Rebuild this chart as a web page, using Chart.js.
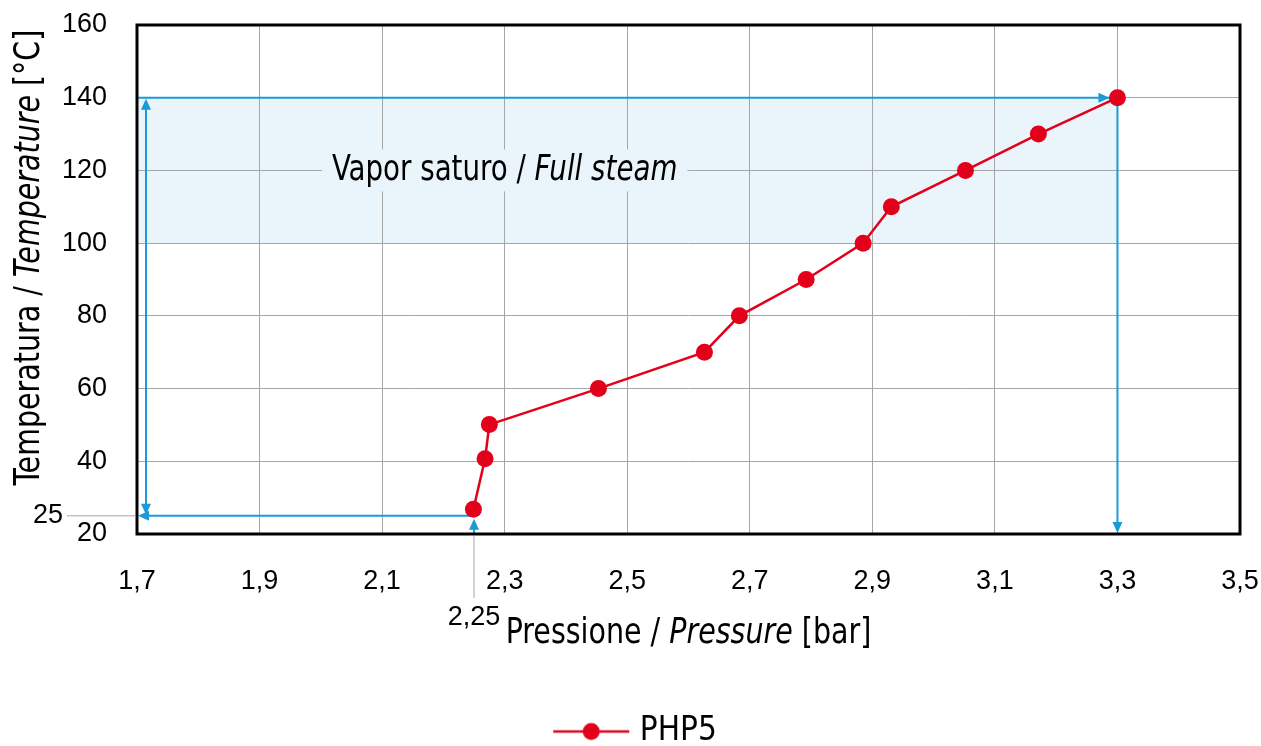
<!DOCTYPE html>
<html lang="it">
<head>
<meta charset="UTF-8">
<title>PHP5 - Temperatura / Pressione</title>
<script src="https://cdn.jsdelivr.net/npm/chart.js@4.4.1/dist/chart.umd.min.js"></script>
<style>
  html, body { margin: 0; padding: 0; background: #fff; }
  #wrap { width: 1261px; height: 746px; }
</style>
</head>
<body>
<div id="wrap"><canvas id="steamChart"></canvas></div>
<script>
// PHP5 curve (pressure in bar, temperature in °C)
const pressure    = [2.249, 2.268, 2.275, 2.453, 2.626, 2.683, 2.792, 2.885, 2.931, 3.052, 3.171, 3.3];
const temperature = [26.8, 40.7, 50.1, 60, 70, 80, 90, 100, 110, 120, 130, 140];
const seriesName = 'PHP5';

const xTicks = [1.7, 1.9, 2.1, 2.3, 2.5, 2.7, 2.9, 3.1, 3.3, 3.5];
const yTicks = [20, 40, 60, 80, 100, 120, 140, 160];

// marked start point and the saturated steam band
const startPressure = 2.25;
const startTemp = 25;
const steamPressure = 3.3;
const steamLow = 100;
const steamHigh = 140;
const bandLabel = [['Vapor saturo / ', false], ['Full steam', true]];
const bandLabelAt = [2.3, 120];

const xTitle = [['Pressione / ', false], ['Pressure', true], [' [bar]', false]];
const yTitle = [['Temperatura / ', false], ['Temperature', true], [' [°C]', false]];

const RED = '#e2001a';
const BLUE = '#1a9ad6';
const BAND = '#e9f4fb';
const GRID = '#a6a6a6';
const NARROW = '"Liberation Sans Narrow", "DejaVu Sans Condensed", sans-serif';
const PLAIN = '"Liberation Sans", Arial, sans-serif';
const SQ = 0.88; // horizontal squeeze, the original font is narrower

const comma = (v, d) => v.toFixed(d).replace('.', ',');

function arrowHead(ctx, x, y, dir) {
    const l = 11, w = 5;
    ctx.beginPath();
    ctx.moveTo(x, y);
    if (dir === 'up')    { ctx.lineTo(x - w, y + l); ctx.lineTo(x + w, y + l); }
    if (dir === 'down')  { ctx.lineTo(x - w, y - l); ctx.lineTo(x + w, y - l); }
    if (dir === 'left')  { ctx.lineTo(x + l, y - w); ctx.lineTo(x + l, y + w); }
    if (dir === 'right') { ctx.lineTo(x - l, y - w); ctx.lineTo(x - l, y + w); }
    ctx.closePath();
    ctx.fill();
}

function line(ctx, x1, y1, x2, y2) {
    ctx.beginPath();
    ctx.moveTo(x1, y1);
    ctx.lineTo(x2, y2);
    ctx.stroke();
}

function textWidth(ctx, parts, size) {
    let total = 0;
    parts.forEach(p => {
        ctx.font = (p[1] ? 'italic ' : '') + size + 'px ' + NARROW;
        total += ctx.measureText(p[0]).width;
    });
    return total * SQ;
}

// text with some parts in italic, centred on (cx, cy)
function mixedText(ctx, parts, cx, cy, size) {
    const total = textWidth(ctx, parts, size) / SQ;
    ctx.save();
    ctx.translate(cx, cy);
    ctx.scale(SQ, 1);
    ctx.textAlign = 'left';
    ctx.textBaseline = 'middle';
    ctx.fillStyle = '#000';
    let x = -total / 2;
    parts.forEach(p => {
        ctx.font = (p[1] ? 'italic ' : '') + size + 'px ' + NARROW;
        ctx.fillText(p[0], x, 0);
        x += ctx.measureText(p[0]).width;
    });
    ctx.restore();
}

const steamPlugin = {
    id: 'steam',
    beforeDraw(chart) {
        const {ctx, scales: {x, y}} = chart;
        ctx.save();
        ctx.fillStyle = BAND;
        const left = x.getPixelForValue(xTicks[0]);
        const right = x.getPixelForValue(steamPressure);
        const top = y.getPixelForValue(steamHigh);
        const bottom = y.getPixelForValue(steamLow);
        ctx.fillRect(left, top, right - left, bottom - top);
        ctx.restore();
    },
    beforeDatasetsDraw(chart) {
        const {ctx, chartArea: area, scales: {x, y}} = chart;
        ctx.save();
        // label box over the grid
        const size = 35;
        const cx = x.getPixelForValue(bandLabelAt[0]);
        const cy = y.getPixelForValue(bandLabelAt[1]);
        const w = textWidth(ctx, bandLabel, size);
        ctx.fillStyle = BAND;
        ctx.fillRect(cx - w / 2 - 10, cy - 21, w + 20, 42);
        mixedText(ctx, bandLabel, cx, cy, size);

        // arrows
        ctx.strokeStyle = BLUE;
        ctx.fillStyle = BLUE;
        ctx.lineWidth = 2;
        const yHigh = y.getPixelForValue(steamHigh);
        const yStart = y.getPixelForValue(startTemp);
        const xSteam = x.getPixelForValue(steamPressure);
        const xStart = x.getPixelForValue(startPressure);
        const xv = area.left + 9;

        line(ctx, area.left, yHigh, xSteam - 2, yHigh);
        arrowHead(ctx, xSteam - 8, yHigh, 'right');

        line(ctx, xSteam, yHigh, xSteam, area.bottom - 4);
        arrowHead(ctx, xSteam, area.bottom - 1, 'down');

        line(ctx, xv, yHigh + 4, xv, yStart - 4);
        arrowHead(ctx, xv, yHigh + 1, 'up');
        arrowHead(ctx, xv, yStart - 1, 'down');

        line(ctx, area.left + 4, yStart, xStart, yStart);
        arrowHead(ctx, area.left + 1, yStart, 'left');

        line(ctx, xStart, area.bottom, xStart, yStart + 6);
        arrowHead(ctx, xStart, yStart + 3, 'up');
        ctx.restore();
    },
    afterDraw(chart) {
        const {ctx, chartArea: area, scales: {x, y}} = chart;
        ctx.save();
        // frame
        ctx.strokeStyle = '#000';
        ctx.lineWidth = 3;
        ctx.strokeRect(area.left, area.top, area.right - area.left, area.bottom - area.top);

        // extra ticks 25 and 2,25
        ctx.strokeStyle = GRID;
        ctx.lineWidth = 1;
        const yStart = y.getPixelForValue(startTemp);
        const xStart = x.getPixelForValue(startPressure);
        line(ctx, area.left - 70, yStart, area.left - 2, yStart);
        line(ctx, xStart, area.bottom + 2, xStart, area.bottom + 64);
        ctx.fillStyle = '#000';
        ctx.font = '27px ' + PLAIN;
        ctx.textAlign = 'right';
        ctx.textBaseline = 'middle';
        ctx.fillText(String(startTemp), area.left - 74, yStart);
        ctx.textAlign = 'center';
        ctx.fillText(comma(startPressure, 2), xStart, area.bottom + 84);

        // axis titles
        const tx = (area.left + area.right) / 2;
        mixedText(ctx, xTitle, tx, area.bottom + 100, 36);
        ctx.translate(30, (area.top + area.bottom) / 2 - 22);
        ctx.rotate(-Math.PI / 2);
        mixedText(ctx, yTitle, 0, 0, 36);
        ctx.restore();
    }
};

// legend icon: line with a dot (left part of the canvas is left empty
// so the icon sits a bit further right, like the original)
const legendIcon = document.createElement('canvas');
legendIcon.width = 114;
legendIcon.height = 20;
(function () {
    const c = legendIcon.getContext('2d');
    c.strokeStyle = RED;
    c.lineWidth = 2.5;
    line(c, 37, 10, 113, 10);
    c.fillStyle = RED;
    c.beginPath();
    c.arc(75, 10, 8.5, 0, Math.PI * 2);
    c.fill();
})();

const points = pressure.map((p, i) => ({x: p, y: temperature[i]}));

new Chart(document.getElementById('steamChart'), {
    type: 'line',
    data: {
        datasets: [{
            label: seriesName,
            data: points,
            borderColor: RED,
            backgroundColor: RED,
            borderWidth: 2.5,
            pointRadius: 8.5,
            pointHoverRadius: 8.5,
            pointBackgroundColor: RED,
            pointBorderWidth: 0,
            tension: 0
        }]
    },
    options: {
        responsive: true,
        maintainAspectRatio: false,
        animation: false,
        layout: { padding: { top: 25, right: 21, left: 0, bottom: -12 } },
        plugins: {
            tooltip: { enabled: false },
            legend: {
                position: 'bottom',
                labels: {
                    usePointStyle: true,
                    pointStyleWidth: 100,
                    boxHeight: 20,
                    padding: 10,
                    color: '#000',
                    font: { family: NARROW, size: 33 },
                    generateLabels: () => [{
                        text: seriesName,
                        pointStyle: legendIcon,
                        fillStyle: RED,
                        strokeStyle: RED,
                        lineWidth: 0,
                        hidden: false,
                        datasetIndex: 0
                    }]
                }
            }
        },
        scales: {
            x: {
                type: 'linear',
                min: xTicks[0],
                max: xTicks[xTicks.length - 1],
                afterBuildTicks: s => { s.ticks = xTicks.map(v => ({value: v})); },
                afterFit: s => { s.height = 171; s.paddingLeft = 0; s.paddingRight = 0; },
                grid: { color: GRID, lineWidth: 1, drawTicks: false },
                border: { display: false },
                ticks: {
                    padding: 31,
                    color: '#000',
                    font: { family: PLAIN, size: 27 },
                    maxRotation: 0,
                    callback: v => comma(v, 1)
                }
            },
            y: {
                type: 'linear',
                min: yTicks[0],
                max: yTicks[yTicks.length - 1],
                afterBuildTicks: s => { s.ticks = yTicks.map(v => ({value: v})); },
                afterFit: s => { s.width = 137; s.paddingTop = 0; s.paddingBottom = 0; },
                grid: { color: GRID, lineWidth: 1, drawTicks: false },
                border: { display: false },
                ticks: {
                    padding: 30,
                    color: '#000',
                    font: { family: PLAIN, size: 27 },
                    callback: v => String(v)
                }
            }
        }
    },
    plugins: [steamPlugin]
});
</script>
</body>
</html>
